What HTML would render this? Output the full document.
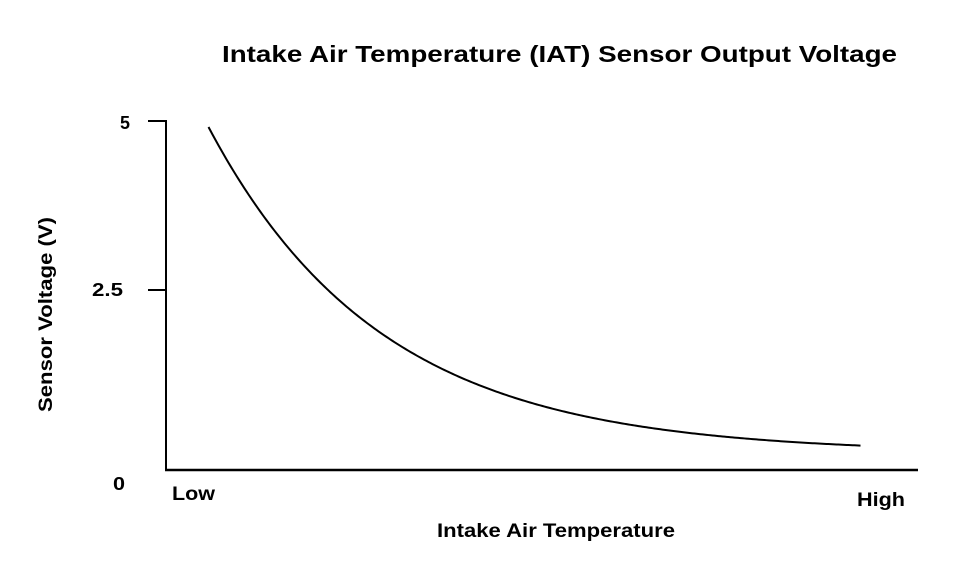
<!DOCTYPE html>
<html><head><meta charset="utf-8"><style>
html,body{margin:0;padding:0;background:#fff;}
svg{display:block;}
text{font-family:"Liberation Sans",Arial,sans-serif;font-weight:bold;fill:#000;}
</style></head><body>
<svg width="960" height="576" viewBox="0 0 960 576" xmlns="http://www.w3.org/2000/svg">
<text x="222" y="62" font-size="23" textLength="675" lengthAdjust="spacingAndGlyphs">Intake Air Temperature (IAT) Sensor Output Voltage</text>
<line x1="166" y1="120" x2="166" y2="471" stroke="#000" stroke-width="2"/>
<line x1="165" y1="470" x2="918" y2="470" stroke="#000" stroke-width="2.5"/>
<line x1="148" y1="121" x2="166" y2="121" stroke="#000" stroke-width="2"/>
<line x1="148" y1="290" x2="166" y2="290" stroke="#000" stroke-width="2"/>
<text x="120" y="129" font-size="18" textLength="10" lengthAdjust="spacingAndGlyphs">5</text>
<text x="92" y="296" font-size="18" textLength="31" lengthAdjust="spacingAndGlyphs">2.5</text>
<text x="113" y="490" font-size="18" textLength="12" lengthAdjust="spacingAndGlyphs">0</text>
<text x="172" y="500" font-size="19" textLength="43" lengthAdjust="spacingAndGlyphs">Low</text>
<text x="857" y="506" font-size="19" textLength="48" lengthAdjust="spacingAndGlyphs">High</text>
<text x="437" y="537" font-size="19" textLength="238" lengthAdjust="spacingAndGlyphs">Intake Air Temperature</text>
<text transform="translate(52,412) rotate(-90)" font-size="19" textLength="195" lengthAdjust="spacingAndGlyphs">Sensor Voltage (V)</text>
<path id="c" fill="none" stroke="#000" stroke-width="2"/>
</svg>
<script>
var d="";
for(var x=208.5;x<=862.01;x+=2){var t=x-208.5;var y=453-326*Math.exp(-0.0058*t);d+=(d?" L":"M")+x.toFixed(1)+","+y.toFixed(2);}
document.getElementById("c").setAttribute("d",d);
</script>
</body></html>
